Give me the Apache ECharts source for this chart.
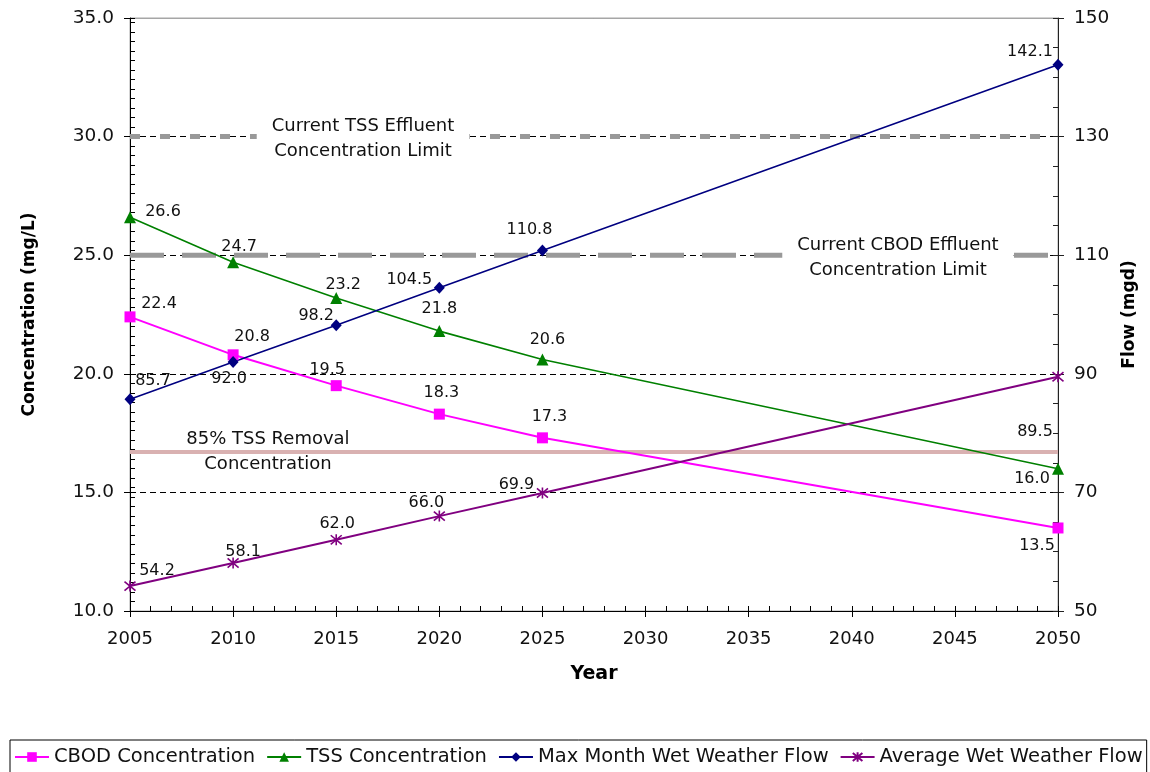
<!DOCTYPE html>
<html>
<head>
<meta charset="utf-8">
<script src="https://cdn.jsdelivr.net/npm/echarts@6/dist/echarts.min.js"></script>
<style>
  html, body { margin: 0; padding: 0; background: #fff; }
  #chart { width: 1150px; height: 772px; }
</style>
</head>
<body>
<div id="chart"></div>
<script>
// Projected effluent concentrations and wet weather flows
const years = [2005, 2010, 2015, 2020, 2025, 2050];
const cbodConcentration = [22.4, 20.8, 19.5, 18.3, 17.3, 13.5];
const tssConcentration = [26.6, 24.7, 23.2, 21.8, 20.6, 16.0];
const maxMonthWetWeatherFlow = [85.7, 92.0, 98.2, 104.5, 110.8, 142.1];
const averageWetWeatherFlow = [54.2, 58.1, 62.0, 66.0, 69.9, 89.5];

// Reference levels (mg/L)
const tssEffluentLimit = 30;
const cbodEffluentLimit = 25;
const tssRemovalConcentration = 16.7;

const seriesNames = ['CBOD Concentration', 'TSS Concentration', 'Max Month Wet Weather Flow', 'Average Wet Weather Flow'];

// Pixel nudges for the value labels next to each marker
const cbodLabelOffsets = [[29, -13], [19, -18], [-9, -16], [2, -21], [7, -21], [-21, 18]];
const tssLabelOffsets = [[33, -5], [6, -15], [7, -13], [0, -22], [5, -20], [-26, 10]];
const maxFlowLabelOffsets = [[23, -18], [-4, 17], [-20, -9], [-30, -8], [-13, -21], [-28, -13]];
const avgFlowLabelOffsets = [[27, -15], [10, -11], [1, -16], [-13, -13], [-26, -8], [-23, 55]];

const FONT = '"DejaVu Sans", Verdana, sans-serif';
const X_MIN = 2005, X_MAX = 2050;

function points(values, offsets) {
  return years.map((y, i) => ({ value: [y, values[i]], label: { offset: offsets[i] } }));
}

function levelLine(level, color, width, dash) {
  return {
    type: 'line', xAxisIndex: 0, yAxisIndex: 0, silent: true, symbol: 'none',
    data: [[X_MIN, level], [X_MAX, level]],
    lineStyle: { color: color, width: width, type: dash },
    z: 1, animation: false
  };
}

// Two-line caption anchored at (x, level); boxed captions hide the line behind them
function levelText(x, level, text, boxed, dy) {
  return {
    type: 'custom', xAxisIndex: 0, yAxisIndex: 0, silent: true,
    data: [[x, level]],
    renderItem: (params, api) => {
      const p = api.coord([api.value(0), api.value(1)]);
      return {
        type: 'text', x: p[0], y: p[1] + dy, z2: 10,
        style: {
          text: text, fill: '#111', font: '18px ' + FONT, lineHeight: 25,
          align: 'center', verticalAlign: 'middle',
          backgroundColor: boxed ? '#fff' : null, padding: boxed ? [2, 15, 2, 15] : 0
        }
      };
    },
    z: 5, animation: false
  };
}

const valueLabel = {
  show: true, position: 'inside', fontFamily: FONT, fontSize: 16, color: '#111',
  formatter: p => p.value[1].toFixed(1)
};

const chart = echarts.init(document.getElementById('chart'));

chart.setOption({
  backgroundColor: '#fff',
  animation: false,
  textStyle: { fontFamily: FONT },
  grid: { left: 130, right: 92, top: 18, bottom: 161, show: true, borderColor: '#a6a6a6', borderWidth: 1 },
  legend: {
    data: seriesNames,
    left: 10, top: 740,
    orient: 'horizontal',
    itemWidth: 34, itemHeight: 12, itemGap: 11,
    padding: [7, 4, 7, 4],
    borderColor: '#000', borderWidth: 1,
    textStyle: { fontFamily: FONT, fontSize: 19.5, color: '#111' }
  },
  xAxis: [
    {
      type: 'value', min: X_MIN, max: X_MAX, interval: 5, position: 'bottom',
      name: 'Year', nameLocation: 'middle', nameGap: 54,
      nameTextStyle: { fontFamily: FONT, fontSize: 19, fontWeight: 'bold', color: '#000' },
      axisLine: { show: true, lineStyle: { color: '#000', width: 1 } },
      axisTick: { show: true, inside: false, length: 6, lineStyle: { color: '#000' } },
      axisLabel: { fontFamily: FONT, fontSize: 18, color: '#111', margin: 19, formatter: v => String(v) },
      splitLine: { show: false }
    },
    {
      type: 'value', min: X_MIN, max: X_MAX, interval: 1, position: 'bottom',
      axisLine: { show: false },
      axisTick: { show: true, inside: true, length: 5, lineStyle: { color: '#000' } },
      axisLabel: { show: false }, splitLine: { show: false }
    },
    {
      // plain grey frame edge along the top of the plot
      type: 'value', min: X_MIN, max: X_MAX, position: 'top',
      axisLine: { show: true, lineStyle: { color: '#a6a6a6', width: 1 } },
      axisTick: { show: false }, axisLabel: { show: false }, splitLine: { show: false }
    }
  ],
  yAxis: [
    {
      type: 'value', min: 10, max: 35, interval: 5, position: 'left',
      name: 'Concentration (mg/L)', nameLocation: 'middle', nameGap: 92, nameRotate: 90,
      nameTextStyle: { fontFamily: FONT, fontSize: 17, fontWeight: 'bold', color: '#000' },
      axisLine: { show: true, lineStyle: { color: '#000', width: 1 } },
      axisTick: { show: true, inside: false, length: 6, lineStyle: { color: '#000' } },
      axisLabel: { fontFamily: FONT, fontSize: 18.5, color: '#111', margin: 16, formatter: v => v.toFixed(1) },
      splitLine: { show: true, lineStyle: { color: '#000', width: 1, type: [6, 4] } }
    },
    {
      type: 'value', min: 50, max: 150, interval: 20, position: 'right',
      name: 'Flow (mgd)', nameLocation: 'middle', nameGap: 63, nameRotate: 90,
      nameTextStyle: { fontFamily: FONT, fontSize: 17, fontWeight: 'bold', color: '#000' },
      axisLine: { show: true, lineStyle: { color: '#222', width: 1 } },
      axisTick: { show: true, inside: false, length: 6, lineStyle: { color: '#222' } },
      axisLabel: { fontFamily: FONT, fontSize: 18.5, color: '#111', margin: 16, formatter: v => String(v) },
      splitLine: { show: false }
    },
    {
      type: 'value', min: 10, max: 35, interval: 0.4, position: 'left',
      axisLine: { show: false },
      axisTick: { show: true, inside: true, length: 5, lineStyle: { color: '#000' } },
      axisLabel: { show: false }, splitLine: { show: false }
    },
    {
      type: 'value', min: 50, max: 150, interval: 5, position: 'right',
      axisLine: { show: false },
      axisTick: { show: true, inside: true, length: 5, lineStyle: { color: '#222' } },
      axisLabel: { show: false }, splitLine: { show: false }
    }
  ],
  series: [
    levelLine(tssEffluentLimit, '#999999', 5, [10, 20]),
    levelLine(cbodEffluentLimit, '#999999', 5, [34, 18]),
    levelLine(tssRemovalConcentration, '#d9b1b1', 4, 'solid'),
    levelText(2016.3, tssEffluentLimit, 'Current TSS Effluent\nConcentration Limit', true, 2),
    levelText(2042.24, cbodEffluentLimit, 'Current CBOD Effluent\nConcentration Limit', true, 3),
    levelText(2011.69, tssRemovalConcentration, '85% TSS Removal\nConcentration', false, 0),
    {
      name: seriesNames[0], type: 'line', xAxisIndex: 0, yAxisIndex: 0,
      data: points(cbodConcentration, cbodLabelOffsets),
      symbol: 'rect', symbolSize: 11,
      lineStyle: { color: '#ff00ff', width: 2 },
      itemStyle: { color: '#ff00ff', borderWidth: 0 },
      label: valueLabel, z: 3
    },
    {
      name: seriesNames[1], type: 'line', xAxisIndex: 0, yAxisIndex: 0,
      data: points(tssConcentration, tssLabelOffsets),
      symbol: 'triangle', symbolSize: 12,
      lineStyle: { color: '#008000', width: 1.6 },
      itemStyle: { color: '#008000', borderWidth: 0 },
      label: valueLabel, z: 3
    },
    {
      name: seriesNames[2], type: 'line', xAxisIndex: 0, yAxisIndex: 1,
      data: points(maxMonthWetWeatherFlow, maxFlowLabelOffsets),
      symbol: 'diamond', symbolSize: [11, 12],
      lineStyle: { color: '#000080', width: 1.6 },
      itemStyle: { color: '#000080', borderWidth: 0 },
      label: valueLabel, z: 3
    },
    {
      name: seriesNames[3], type: 'line', xAxisIndex: 0, yAxisIndex: 1,
      data: points(averageWetWeatherFlow, avgFlowLabelOffsets),
      symbol: 'path://M0,0L10,10M10,0L0,10M5,-1L5,11', symbolSize: 11,
      lineStyle: { color: '#800080', width: 2 },
      itemStyle: { color: 'rgba(0,0,0,0)', borderColor: '#800080', borderWidth: 1.6 },
      label: valueLabel, z: 3
    }
  ]
});
</script>
</body>
</html>
